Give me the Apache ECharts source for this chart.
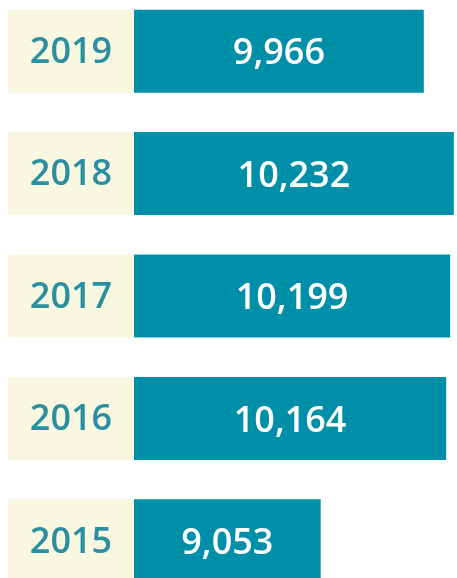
<!DOCTYPE html>
<html>
<head>
<meta charset="utf-8">
<script src="https://cdn.jsdelivr.net/npm/echarts@6/dist/echarts.min.js"></script>
<style>
html,body{margin:0;padding:0;background:#fff;}
#c{width:457px;height:578px;}
</style>
</head>
<body>
<div id="c"></div>
<script>
var years = ['2019', '2018', '2017', '2016', '2015'];
var values = [9966, 10232, 10199, 10164, 9053];

var chart = echarts.init(document.getElementById('c'), null, {renderer: 'canvas'});
chart.setOption({
  animation: false,
  backgroundColor: '#ffffff',
  grid: {left: 134, right: 0, top: -10, height: 612, containLabel: false, outerBoundsMode: 'none'},
  xAxis: {
    type: 'value', min: 7400, max: 10260,
    show: false, splitLine: {show: false}
  },
  yAxis: {
    type: 'category', data: years, inverse: true,
    axisLine: {show: false}, axisTick: {show: false}, splitLine: {show: false},
    axisLabel: {
      margin: 0,
      formatter: '{y|{value}}',
      rich: {
        y: {
          width: 126, height: 80, lineHeight: 80, align: 'center',
          padding: [3, 0, 0, 0],
          backgroundColor: '#faf7e0',
          color: '#2b8fa2', fontFamily: 'Open Sans', fontWeight: 600, fontSize: 36
        }
      }
    }
  },
  series: [{
    type: 'bar',
    data: values,
    barWidth: 83,
    itemStyle: {color: '#008fa8'},
    label: {
      show: true, position: 'inside', offset: [0, 3],
      color: '#ffffff', fontFamily: 'Open Sans', fontWeight: 600, fontSize: 36,
      formatter: function (p) { return p.value.toLocaleString('en-US'); }
    }
  }]
});
</script>
</body>
</html>
